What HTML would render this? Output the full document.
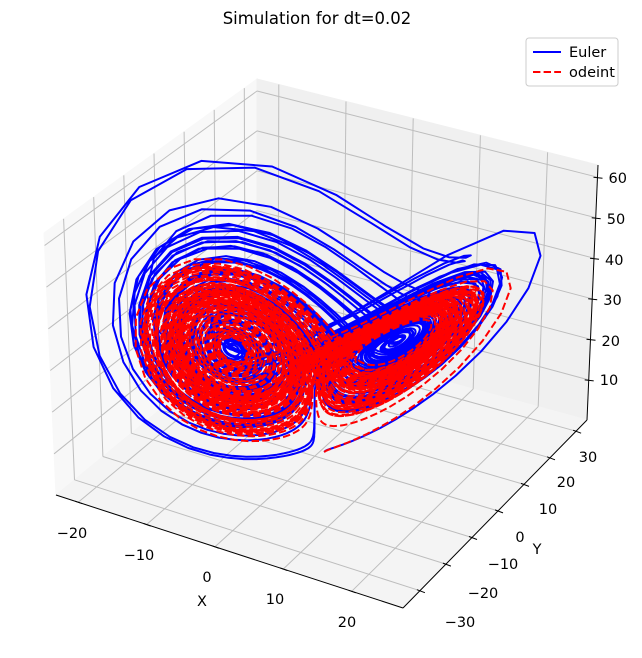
<!DOCTYPE html>
<html><head><meta charset="utf-8"><style>
html,body{margin:0;padding:0;background:#fff;}
svg{display:block;font-family:"DejaVu Sans","Liberation Sans",sans-serif;}
</style></head><body>
<svg id="s" width="642" height="658" viewBox="0 0 642 658" xmlns="http://www.w3.org/2000/svg">
<rect width="642" height="658" fill="#fff"/>
<text x="317" y="24" font-size="16.5" text-anchor="middle">Simulation for dt=0.02</text>
<g id="box"></g>
<g id="data"></g>
<g>
<rect x="526" y="38" width="92" height="48" rx="3" fill="#fff" fill-opacity="0.8" stroke="#ccc"/>
<line x1="533" y1="52" x2="561" y2="52" stroke="#0000ff" stroke-width="2"/>
<text x="569" y="57" font-size="14.5">Euler</text>
<line x1="533" y1="72" x2="561" y2="72" stroke="#ff0000" stroke-width="2" stroke-dasharray="7.4,3.2"/>
<text x="569" y="77" font-size="14.5">odeint</text>
</g>
</svg>
<script>
var C={};
C["000"]=[56,495];C["100"]=[403,608];C["010"]=[257,330];C["110"]=[587,420];
C["001"]=[44,233];C["011"]=[257,79];C["111"]=[598,165];C["101"]=[402.5,349.5];
function tri(fx,fy,fz){
  var r=[0,0];
  for(var a=0;a<2;a++)for(var b=0;b<2;b++)for(var c=0;c<2;c++){
    var w=(a?fx:1-fx)*(b?fy:1-fy)*(c?fz:1-fz);var p=C[""+a+b+c];
    r[0]+=w*p[0];r[1]+=w*p[1];}
  return r;}
function proj(x,y,z){return tri((x+23.25)/50.75,(y+36.5)/70.7,(z-0.1)/62.9);}
function fxv(x){return (x+23.25)/50.75;} function fyv(y){return (y+36.5)/70.7;} function fzv(z){return (z-0.1)/62.9;}
var NS="http://www.w3.org/2000/svg";
function el(g,t,at,txt){var e=document.createElementNS(NS,t);for(var k in at)e.setAttribute(k,at[k]);if(txt!==undefined)e.textContent=txt;g.appendChild(e);return e;}
var box=document.getElementById("box");
function poly(pts,fill){el(box,"polygon",{points:pts.map(function(p){return p[0].toFixed(1)+","+p[1].toFixed(1)}).join(" "),fill:fill,stroke:fill});}
poly([C["000"],C["010"],C["011"],C["001"]],"#f8f8f8");
poly([C["010"],C["110"],C["111"],C["011"]],"#f0f0f0");
poly([C["000"],C["100"],C["110"],C["010"]],"#f4f4f4");
function ln(a,b,col,w){el(box,"line",{x1:a[0].toFixed(1),y1:a[1].toFixed(1),x2:b[0].toFixed(1),y2:b[1].toFixed(1),stroke:col,"stroke-width":w});}
var gc="#bdbdbd";
[-20,-10,0,10,20].forEach(function(x){var f=fxv(x);
  ln(tri(f,0,0),tri(f,1,0),gc,1);ln(tri(f,1,0),tri(f,1,1),gc,1);});
[-30,-20,-10,0,10,20,30].forEach(function(y){var f=fyv(y);
  ln(tri(1,f,0),tri(0,f,0),gc,1);ln(tri(0,f,0),tri(0,f,1),gc,1);});
[10,20,30,40,50,60].forEach(function(z){var f=fzv(z);
  ln(tri(0,0,f),tri(0,1,f),gc,1);ln(tri(0,1,f),tri(1,1,f),gc,1);});
ln(C["000"],C["100"],"#000",1);ln(C["100"],C["110"],"#000",1);ln(C["110"],C["111"],"#000",1);
function tl(x,y,s,anchor){el(box,"text",{x:x,y:y,"font-size":14.5,"text-anchor":anchor||"middle"},s);}
var M="\u2212";
[[-20,72,538],[-10,139,560],[0,207,582],[10,275,604],[20,347,627]].forEach(function(t){
  var p=tri(fxv(t[0]),0,0);ln([p[0]-3,p[1]-1],[p[0]+4,p[1]+1.5],"#000",1);
  tl(t[1],t[2],(t[0]<0?M+(-t[0]):""+t[0]));});
tl(202,606,"X");
[[-30,460,627],[-20,483,598],[-10,503,569],[0,520,542],[10,548,514],[20,566,487],[30,588,462]].forEach(function(t){
  var p=tri(1,fyv(t[0]),0);ln([p[0]-3,p[1]-1],[p[0]+5,p[1]+2],"#000",1);
  tl(t[1],t[2],(t[0]<0?M+(-t[0]):""+t[0]));});
tl(537,554,"Y");
[[10,380],[20,341],[30,300],[40,260],[50,219],[60,178]].forEach(function(t){
  var p=tri(1,1,fzv(t[0]));ln([p[0]-4,p[1]],[p[0]+5,p[1]+1],"#000",1);
  tl(p[0]+11,t[1]+5,""+t[0],"start");});
var s=10,r=28,b=8/3,dt=0.02,N=5000;
function f(v){return [s*(v[1]-v[0]),v[0]*(r-v[2])-v[1],v[0]*v[1]-b*v[2]];}
var e=[1,1,1],pe=[];
for(var i=0;i<=N;i++){pe.push(proj(e[0],e[1],e[2]));var d=f(e);e=[e[0]+dt*d[0],e[1]+dt*d[1],e[2]+dt*d[2]];}
var o=[1,1,1],po=[],h=dt/10;
for(var i=0;i<=N;i++){po.push(proj(o[0],o[1],o[2]));
  for(var k=0;k<10;k++){var k1=f(o);var k2=f([o[0]+h/2*k1[0],o[1]+h/2*k1[1],o[2]+h/2*k1[2]]);
   var k3=f([o[0]+h/2*k2[0],o[1]+h/2*k2[1],o[2]+h/2*k2[2]]);var k4=f([o[0]+h*k3[0],o[1]+h*k3[1],o[2]+h*k3[2]]);
   o=[o[0]+h/6*(k1[0]+2*k2[0]+2*k3[0]+k4[0]),o[1]+h/6*(k1[1]+2*k2[1]+2*k3[1]+k4[1]),o[2]+h/6*(k1[2]+2*k2[2]+2*k3[2]+k4[2])];}}
function pth(p){return "M"+p.map(function(q){return q[0].toFixed(1)+" "+q[1].toFixed(1)}).join("L");}
var dg=document.getElementById("data");
el(dg,"path",{d:pth(pe),fill:"none",stroke:"#0000ff","stroke-width":2,"stroke-linejoin":"round"});
el(dg,"path",{d:pth(po),fill:"none",stroke:"#ff0000","stroke-width":2,"stroke-dasharray":"7.4,3.2"});
</script>
</body></html>
